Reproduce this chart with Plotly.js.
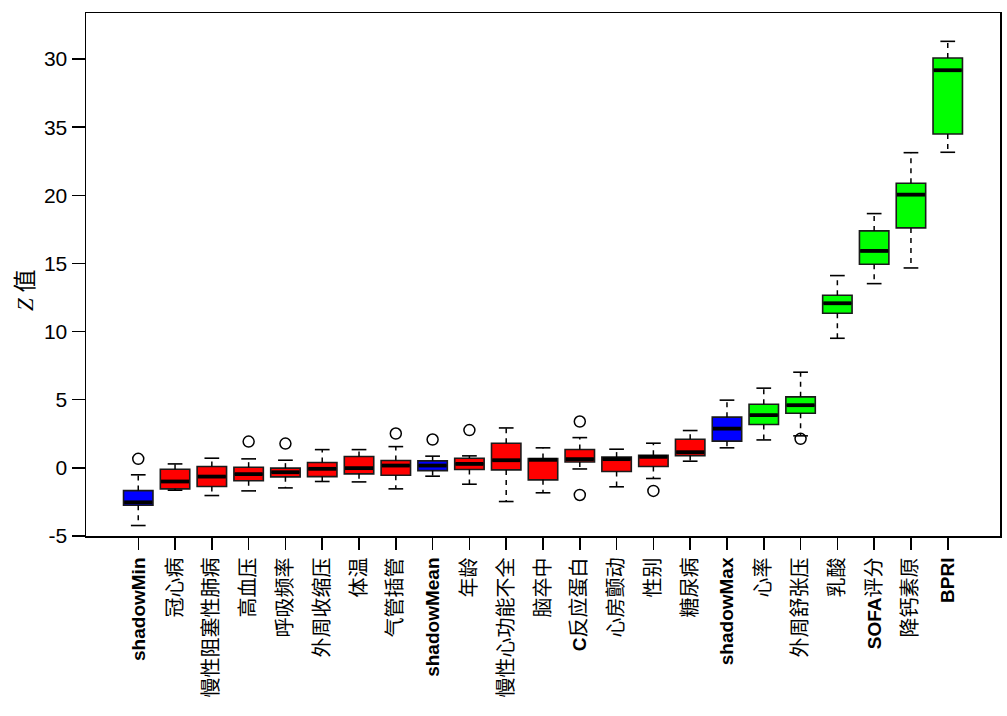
<!DOCTYPE html>
<html>
<head>
<meta charset="utf-8">
<script src="https://cdn.plot.ly/plotly-3.0.1.min.js"></script>
<style>html,body{margin:0;padding:0;background:#fff;}#chart{width:1007px;height:716px;}</style>
</head>
<body>
<div id="chart"></div>
<script>
// ---- data ----
const categories = ['shadowMin','冠心病','慢性阻塞性肺病','高血压','呼吸频率','外周收缩压','体温','气管插管','shadowMean','年龄','慢性心功能不全','脑卒中','C反应蛋白','心房颤动','性别','糖尿病','shadowMax','心率','外周舒张压','乳酸','SOFA评分','降钙素原','BPRI'];
const group = ['shadow','rejected','rejected','rejected','rejected','rejected','rejected','rejected','shadow','rejected','rejected','rejected','rejected','rejected','rejected','rejected','shadow','confirmed','confirmed','confirmed','confirmed','confirmed','confirmed'];
const q1      = [-2.74,-1.54,-1.37,-0.95,-0.66,-0.64,-0.44,-0.54,-0.20,-0.12,-0.15,-0.88,0.43,-0.27,0.10,0.90,1.96,3.18,4.01,11.35,14.94,17.61,24.50];
const medians = [-2.53,-1.00,-0.64,-0.46,-0.32,-0.07,-0.02,0.17,0.17,0.29,0.56,0.59,0.64,0.64,0.81,1.15,2.88,3.87,4.60,12.08,15.92,20.05,29.18];
const q3      = [-1.67,-0.10,0.10,0.05,-0.02,0.39,0.83,0.54,0.51,0.71,1.81,0.68,1.35,0.79,0.93,2.10,3.72,4.67,5.21,12.67,17.39,20.89,30.08];
const lowerWhisker = [-4.23,-1.64,-2.03,-1.69,-1.47,-1.00,-1.03,-1.54,-0.61,-1.20,-2.47,-1.83,-0.08,-1.39,-0.78,0.49,1.47,2.05,2.35,9.51,13.52,14.67,23.16];
const upperWhisker = [-0.51,0.29,0.71,0.66,0.56,1.34,1.34,1.56,0.86,0.88,2.93,1.47,2.22,1.37,1.81,2.74,4.97,5.85,7.02,14.11,18.66,23.13,31.30];
const outlierCat = ['shadowMin','高血压','呼吸频率','气管插管','shadowMean','年龄','C反应蛋白','C反应蛋白','性别','外周舒张压'];
const outlierVal = [0.66,1.93,1.78,2.52,2.08,2.77,3.40,-1.99,-1.69,2.13];
const yTickVals = [-5,0,5,10,15,20,25,30];
const yTickText = ['-5','0','5','10','15','20','35','30'];
const groupColors = {shadow:'#0000FF', rejected:'#FF0000', confirmed:'#00FF00'};

// ---- build ----
const idx = categories.map((c,i)=>i);
const BOXW = 0.8, CAPW = 0.4;
const traces = [];
Object.keys(groupColors).forEach(g=>{
  const ii = idx.filter(i=>group[i]===g);
  traces.push({
    type:'box', orientation:'v',
    x: ii, q1: ii.map(i=>q1[i]), median: ii.map(i=>medians[i]), q3: ii.map(i=>q3[i]),
    lowerfence: ii.map(i=>q1[i]), upperfence: ii.map(i=>q3[i]),
    width: BOXW, whiskerwidth: 0, boxpoints:false,
    fillcolor: groupColors[g], line:{color:'#1a1a1a', width:1.6},
    hoverinfo:'skip', showlegend:false
  });
});
// dashed whiskers
const wx=[], wy=[];
idx.forEach(i=>{ wx.push(i,i,null,i,i,null); wy.push(q3[i],upperWhisker[i],null,q1[i],lowerWhisker[i],null); });
traces.push({type:'scatter', mode:'lines', x:wx, y:wy, line:{color:'#000', width:1.5, dash:'5px,5px'}, hoverinfo:'skip', showlegend:false});
// staples
const cx=[], cy=[];
idx.forEach(i=>{ cx.push(i-CAPW/2,i+CAPW/2,null,i-CAPW/2,i+CAPW/2,null); cy.push(upperWhisker[i],upperWhisker[i],null,lowerWhisker[i],lowerWhisker[i],null); });
traces.push({type:'scatter', mode:'lines', x:cx, y:cy, line:{color:'#000', width:1.6}, hoverinfo:'skip', showlegend:false});
// medians
const mx=[], my=[];
idx.forEach(i=>{ mx.push(i-BOXW/2+0.02,i+BOXW/2-0.02,null); my.push(medians[i],medians[i],null); });
traces.push({type:'scatter', mode:'lines', x:mx, y:my, line:{color:'#000', width:3.8}, hoverinfo:'skip', showlegend:false});
// outliers
traces.push({type:'scatter', mode:'markers', x: outlierCat.map(c=>categories.indexOf(c)), y: outlierVal,
  marker:{symbol:'circle-open', size:11, color:'#000', line:{width:1.5}}, hoverinfo:'skip', showlegend:false});

const tickText = categories.map(c=>c.replace(/([A-Za-z]+)/g,'<b><span style="font-size:19px">$1</span></b>'));
const FONT = 'Liberation Sans, Arial, Noto Sans CJK SC, sans-serif';
const layout = {
  width:1007, height:716,
  margin:{l:86, r:7, t:13, b:180},
  paper_bgcolor:'#fff', plot_bgcolor:'#fff',
  hovermode:false, showlegend:false, boxmode:'overlay',
  font:{family:FONT, color:'#000'},
  xaxis:{range:[-1.42,23.42], tickmode:'array', tickvals:idx, ticktext:tickText, tickangle:-90,
    ticks:'outside', ticklen:12, tickwidth:1.5, tickcolor:'#000',
    showline:true, linecolor:'#000', linewidth:1.5, mirror:true,
    showgrid:false, zeroline:false, tickfont:{family:FONT, size:20, color:'#000'}},
  yaxis:{range:[-5,33.38], tickmode:'array', tickvals:yTickVals, ticktext:yTickText,
    ticks:'outside', ticklen:13, tickwidth:1.5, tickcolor:'#000',
    showline:true, linecolor:'#000', linewidth:1.5, mirror:true,
    showgrid:false, zeroline:false, tickfont:{family:FONT, size:21, color:'#000'}},
  annotations:[{text:'<i>Z</i> 值', xref:'paper', yref:'paper', x:-0.067, y:0.47, textangle:-90,
    showarrow:false, xanchor:'center', yanchor:'middle',
    font:{family:'Liberation Serif, Noto Sans CJK SC, serif', size:23, color:'#000'}}]
};
Plotly.newPlot('chart', traces, layout, {staticPlot:true, displayModeBar:false});
</script>
</body>
</html>
